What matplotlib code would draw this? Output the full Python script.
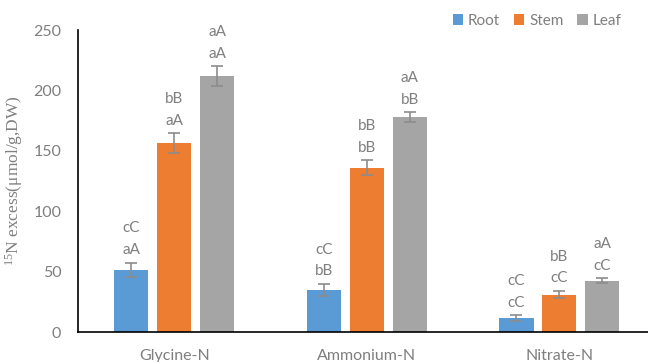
import matplotlib
matplotlib.use("Agg")
import matplotlib.pyplot as plt
import numpy as np

plt.rcParams["font.family"] = ["Lato", "DejaVu Sans"]
plt.rcParams["mathtext.fontset"] = "custom"
plt.rcParams["mathtext.rm"] = "Liberation Serif"
plt.rcParams["mathtext.it"] = "Liberation Serif:italic"
plt.rcParams["mathtext.default"] = "rm"

categories = ["Glycine-N", "Ammonium-N", "Nitrate-N"]
series = ["Root", "Stem", "Leaf"]
root = [51.5, 35, 11.5]
stem = [156.5, 136, 31]
leaf = [212, 178, 42.5]
root_err = [6, 5, 2.5]
stem_err = [8, 6, 3]
leaf_err = [8, 4, 2]
root_lab = [("cC", "aA"), ("cC", "bB"), ("cC", "cC")]
stem_lab = [("bB", "aA"), ("bB", "bB"), ("bB", "cC")]
leaf_lab = [("aA", "aA"), ("aA", "bB"), ("aA", "cC")]
colors = ["#5B9BD5", "#ED7D31", "#A5A5A5"]
yticks = [0, 50, 100, 150, 200, 250]

W, H = 648, 362
fig = plt.figure(figsize=(W / 100, H / 100), dpi=100)
ax = fig.add_axes([78 / W, 1 - 332 / H, (648 - 78) / W, (332 - 30) / H])

x = np.arange(len(categories))
off = 0.223
bw = 0.177
gray = "#7F7F7F"
vals = [root, stem, leaf]
errs = [root_err, stem_err, leaf_err]
labs = [root_lab, stem_lab, leaf_lab]
for i, (v, e, l) in enumerate(zip(vals, errs, labs)):
    xs = x + (i - 1) * off
    ax.bar(xs, v, width=bw, color=colors[i], label=series[i], zorder=2)
    ax.errorbar(xs, v, yerr=e, fmt="none", ecolor="#8C8C8C", elinewidth=1.2,
                capsize=4, capthick=1.2, zorder=3)
    for xi, vi, ei, (top, bot) in zip(xs, v, e, l):
        ax.annotate(bot, (xi, vi + ei), xytext=(0, 4), textcoords="offset points",
                    ha="center", va="bottom", fontsize=11, color=gray)
        ax.annotate(top, (xi, vi + ei), xytext=(0, 19.5), textcoords="offset points",
                    ha="center", va="bottom", fontsize=11, color=gray)

ax.set_xlim(-0.5, 2.46)
ax.set_ylim(0, 250)
ax.set_yticks(yticks)
ax.set_xticks(x)
ax.set_xticklabels(categories)
ax.tick_params(axis="both", length=0, colors=gray, labelsize=11.5)
ax.tick_params(axis="x", pad=12)
ax.tick_params(axis="y", pad=12)
for s in ["top", "right"]:
    ax.spines[s].set_visible(False)
ax.spines["left"].set_color("black")
ax.spines["bottom"].set_color("black")
ax.spines["left"].set_linewidth(1.2)
ax.spines["bottom"].set_linewidth(1.2)

ax.set_ylabel("$^{15}$N excess(μmol/g,DW)", family="Liberation Serif",
              fontsize=12.5, color=gray, labelpad=6)

leg = fig.legend(loc="upper right", bbox_to_anchor=(0.98, 1.0), ncol=3, frameon=False,
                 fontsize=11, handlelength=0.7, handleheight=0.7, handletextpad=0.3,
                 columnspacing=0.9, labelcolor=gray)

fig.savefig("out.png", dpi=100)
